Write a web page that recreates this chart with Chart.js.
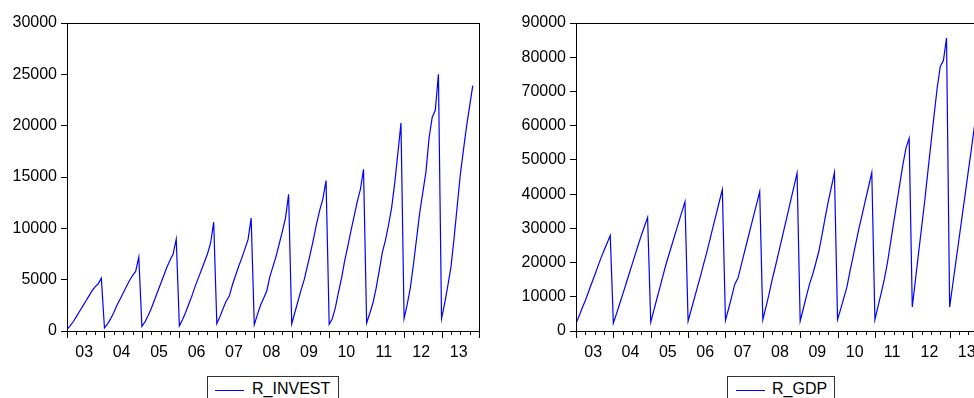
<!DOCTYPE html>
<html>
<head>
<meta charset="utf-8">
<script src="https://cdn.jsdelivr.net/npm/chart.js@4/dist/chart.umd.min.js"></script>
<style>
  html, body { margin: 0; padding: 0; background: #fff; overflow: hidden; }
  body { width: 974px; height: 398px; position: relative; font-family: "Liberation Sans", Arial, sans-serif; }
  canvas { position: absolute; top: 0; }
  #cInvest { left: 0; }
  #cGdp { left: 487px; }
  .legend { position: absolute; top: 376px; height: 30px; border: 1px solid #333; background: #fff; box-sizing: border-box; }
  .legend .swatch { position: absolute; top: 13px; width: 29px; height: 1px; background: #0000ff; }
  .legend .name { position: absolute; top: 3px; left: 44px; font-size: 16px; line-height: 18px; color: #000; white-space: nowrap; }
</style>
</head>
<body>
<canvas id="cInvest" width="487" height="360"></canvas>
<canvas id="cGdp" width="520" height="360"></canvas>
<div class="legend" style="left:207px; width:132px;"><div class="swatch" style="left:7px;"></div><div class="name">R_INVEST</div></div>
<div class="legend" style="left:727px; width:108px;"><div class="swatch" style="left:8px;"></div><div class="name" style="left:44px;">R_GDP</div></div>
<script>
// Year labels for the time axis (2003-2013, monthly observations, 12 per year)
const yearLabels = ['03', '04', '05', '06', '07', '08', '09', '10', '11', '12', '13'];
const MONTHS_PER_YEAR = 12;

// R_INVEST: year-to-date cumulative investment, monthly
const rInvest = [
  170, 500, 900, 1400, 1900, 2400, 2900, 3400, 3900, 4300, 4600, 5150,
  300, 700, 1200, 1800, 2500, 3100, 3700, 4300, 4900, 5400, 5800, 7200,
  450, 900, 1500, 2200, 3000, 3800, 4600, 5400, 6200, 6900, 7500, 8950,
  500, 1100, 1800, 2600, 3400, 4300, 5100, 5900, 6700, 7500, 8550, 10600,
  720, 1400, 2200, 2900, 3400, 4500, 5400, 6300, 7100, 8000, 8900, 11000,
  620, 1600, 2500, 3200, 3900, 5300, 6300, 7300, 8500, 9700, 11000, 13300,
  700, 1800, 2900, 4000, 5000, 6300, 7600, 9000, 10500, 11800, 12900, 14650,
  650, 1200, 2300, 3800, 5200, 6900, 8300, 9800, 11200, 12600, 13800, 15750,
  780, 1700, 2700, 4100, 5800, 7600, 8800, 10300, 12000, 14400, 17300, 20250,
  1210, 2600, 4200, 6500, 9000, 11500, 13500, 15500, 18800, 20800, 21500, 25000,
  1210, 2700, 4400, 6200, 9000, 12100, 15200, 17600, 19900, 21900, 23900, null
];

// R_GDP: year-to-date cumulative GDP, monthly
const rGdp = [
  2200, 4400, 6700, 8900, 11400, 13900, 16300, 18800, 21300, 23500, 25700, 27900,
  2300, 5000, 7900, 10700, 13600, 16500, 19400, 22300, 25200, 28000, 30600, 33200,
  2600, 6000, 9500, 12900, 16400, 19800, 22800, 25800, 28800, 31800, 34800, 37800,
  2900, 6200, 9500, 12800, 16100, 19600, 23000, 26600, 30400, 34000, 37700, 41300,
  3100, 6500, 10000, 13700, 15400, 19000, 22700, 26300, 29900, 33500, 37100, 40700,
  3300, 7000, 10800, 15000, 18700, 22600, 26500, 30400, 34300, 38300, 42200, 46100,
  2900, 6500, 10200, 13700, 16500, 19800, 23300, 28000, 33000, 37700, 42000, 46300,
  3300, 6400, 9600, 12800, 17500, 21800, 26200, 30500, 34400, 38400, 42300, 46300,
  3300, 7200, 11000, 15000, 19800, 25600, 31500, 37200, 43000, 48700, 53500, 56300,
  7000, 14800, 22600, 30300, 38000, 46500, 54800, 63000, 71000, 77300, 79000, 85600,
  7000, 13600, 20200, 26800, 33400, 40000, 46700, 53300, 60000, 66500, 72500, null
];

const investTicks = { max: 30000, step: 5000 };
const gdpTicks = { max: 90000, step: 10000 };

const FONT = { family: '"Liberation Sans", Arial, sans-serif', size: 16 };
const totalMonths = yearLabels.length * MONTHS_PER_YEAR;

// Draws the plot frame and the quarterly / yearly tick marks below the time axis
const framePlugin = {
  id: 'frame',
  afterDraw(chart) {
    const { ctx, chartArea: a } = chart;
    const xs = chart.scales.x;
    ctx.save();
    ctx.strokeStyle = '#000';
    ctx.lineWidth = 1;
    ctx.strokeRect(Math.round(a.left) + 0.5, Math.round(a.top) + 0.5,
                   Math.round(a.right - a.left), Math.round(a.bottom - a.top));
    ctx.beginPath();
    for (let i = 0; i <= totalMonths; i += 3) {
      const x = Math.round(xs.getPixelForValue(i)) + 0.5;
      const len = (i % MONTHS_PER_YEAR === 0) ? 7 : 4;
      ctx.moveTo(x, Math.round(a.bottom));
      ctx.lineTo(x, Math.round(a.bottom) + len);
    }
    ctx.stroke();
    ctx.restore();
  }
};

function makeChart(id, name, values, yCfg, yWidth, padRight) {
  return new Chart(document.getElementById(id), {
    type: 'line',
    data: {
      datasets: [{
        label: name,
        data: values.map((v, i) => ({ x: i, y: v })),
        borderColor: '#0000ff',
        borderWidth: 1.2,
        pointRadius: 0,
        tension: 0,
        fill: false,
        spanGaps: false
      }]
    },
    options: {
      responsive: false,
      animation: false,
      events: [],
      parsing: false,
      layout: { padding: { top: 23, right: padRight, left: 0, bottom: 0 } },
      plugins: { legend: { display: false }, tooltip: { enabled: false } },
      scales: {
        x: {
          type: 'linear',
          min: 0,
          max: totalMonths,
          grid: { display: false },
          border: { display: false },
          afterBuildTicks: s => {
            s.ticks = yearLabels.map((_, k) => ({ value: k * MONTHS_PER_YEAR + 5.5 }));
          },
          ticks: {
            autoSkip: false,
            maxRotation: 0,
            minRotation: 0,
            color: '#000',
            font: FONT,
            padding: 4,
            callback: (v, i) => yearLabels[i]
          },
          afterFit: s => { s.height = 29; }
        },
        y: {
          min: 0,
          max: yCfg.max,
          grid: { display: true, drawOnChartArea: false, drawTicks: true, tickLength: 6, color: '#000' },
          border: { display: false },
          ticks: { stepSize: yCfg.step, color: '#000', font: FONT, padding: 4, callback: v => String(v) },
          afterFit: s => { s.width = yWidth; }
        }
      }
    },
    plugins: [framePlugin]
  });
}

makeChart('cInvest', 'R_INVEST', rInvest, investTicks, 67, 8);
makeChart('cGdp', 'R_GDP', rGdp, gdpTicks, 89, 20);
</script>
</body>
</html>
